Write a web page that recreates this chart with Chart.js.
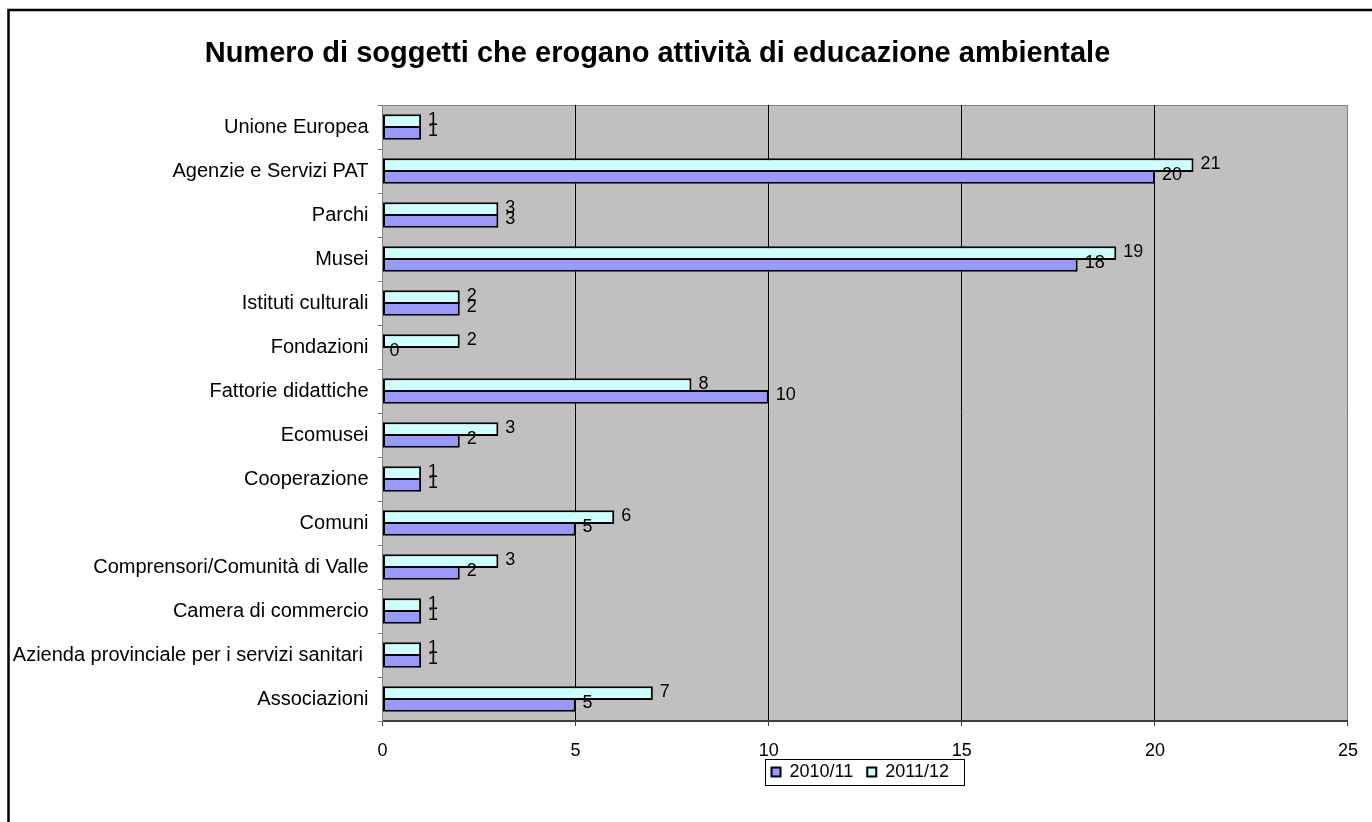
<!DOCTYPE html>
<html>
<head>
<meta charset="utf-8">
<script src="https://cdn.jsdelivr.net/npm/chart.js@4/dist/chart.umd.min.js"></script>
<style>
  html, body { margin: 0; padding: 0; background: #ffffff; }
  canvas { display: block; }
</style>
</head>
<body>
<canvas id="chart" width="1372" height="822"></canvas>
<script>
// Categories, top to bottom
const categories = [
  'Unione Europea',
  'Agenzie e Servizi PAT',
  'Parchi',
  'Musei',
  'Istituti culturali',
  'Fondazioni',
  'Fattorie didattiche',
  'Ecomusei',
  'Cooperazione',
  'Comuni',
  'Comprensori/Comunità di Valle',
  'Camera di commercio',
  'Azienda provinciale per i servizi sanitari ',
  'Associazioni'
];
const values201011 = [1, 20, 3, 18, 2, 0, 10, 2, 1, 5, 2, 1, 1, 5];
const values201112 = [1, 21, 3, 19, 2, 2, 8, 3, 1, 6, 3, 1, 1, 7];
const seriesNames = ['2010/11', '2011/12'];
const xTicks = [0, 5, 10, 15, 20, 25];
const chartTitle = 'Numero di soggetti che erogano attività di educazione ambientale';

const FONT = "Arial, 'Liberation Sans', sans-serif";

// Page frame, plot background and title
const framePlugin = {
  id: 'frame',
  beforeDraw(chart) {
    const { ctx, chartArea: a } = chart;
    ctx.save();
    ctx.fillStyle = '#ffffff';
    ctx.fillRect(0, 0, chart.width, chart.height);
    ctx.fillStyle = '#C0C0C0';
    ctx.fillRect(a.left, a.top, a.right - a.left, a.bottom - a.top);
    ctx.strokeStyle = '#808080';
    ctx.lineWidth = 1;
    ctx.beginPath();
    ctx.moveTo(a.left, a.top + 0.5);
    ctx.lineTo(a.right - 0.5, a.top + 0.5);
    ctx.lineTo(a.right - 0.5, a.bottom);
    ctx.stroke();
    // outer frame
    ctx.strokeStyle = '#000000';
    ctx.lineWidth = 2.5;
    ctx.beginPath();
    ctx.moveTo(8.5, chart.height + 10);
    ctx.lineTo(8.5, 10);
    ctx.lineTo(chart.width + 10, 10);
    ctx.stroke();
    // title
    ctx.fillStyle = '#000000';
    ctx.font = 'bold 29px ' + FONT;
    ctx.textAlign = 'center';
    ctx.textBaseline = 'alphabetic';
    ctx.fillText(chartTitle, 657.5, 62);
    ctx.restore();
  }
};

// Value labels at the end of each bar
const valueLabels = {
  id: 'valueLabels',
  afterDatasetsDraw(chart) {
    const { ctx } = chart;
    ctx.save();
    ctx.font = '18px ' + FONT;
    ctx.fillStyle = '#000000';
    ctx.textAlign = 'left';
    ctx.textBaseline = 'middle';
    chart.data.datasets.forEach((ds, i) => {
      const meta = chart.getDatasetMeta(i);
      meta.data.forEach((bar, j) => {
        ctx.fillText(String(ds.data[j]), bar.x + 7, bar.y - 1.5);
      });
    });
    ctx.restore();
  }
};

// Box around the legend
const legendBox = {
  id: 'legendBox',
  afterDraw(chart) {
    const hb = chart.legend && chart.legend.legendHitBoxes;
    if (!hb || !hb.length) return;
    let l = Infinity, r = -Infinity, t = Infinity, b = -Infinity;
    hb.forEach(h => {
      l = Math.min(l, h.left); r = Math.max(r, h.left + h.width);
      t = Math.min(t, h.top); b = Math.max(b, h.top + h.height);
    });
    const ctx = chart.ctx;
    ctx.save();
    ctx.strokeStyle = '#000000';
    ctx.lineWidth = 1;
    ctx.strokeRect(Math.round(l - 7) + 0.5, Math.round(t - 4) + 0.5, Math.round(r - l + 12), Math.round(b - t + 8));
    ctx.restore();
  }
};

new Chart(document.getElementById('chart'), {
  type: 'bar',
  data: {
    labels: categories,
    datasets: [
      {
        label: seriesNames[1],
        data: values201112,
        backgroundColor: '#CCFFFF',
        borderColor: '#000000',
        borderWidth: 2,
        borderSkipped: false
      },
      {
        label: seriesNames[0],
        data: values201011,
        backgroundColor: '#9999FF',
        borderColor: '#000000',
        borderWidth: 2,
        borderSkipped: false
      }
    ]
  },
  options: {
    indexAxis: 'y',
    responsive: false,
    animation: false,
    devicePixelRatio: 1,
    categoryPercentage: 0.53,
    barPercentage: 1.17,
    layout: { padding: { top: 105, right: 20.5, bottom: 31, left: 0 } },
    scales: {
      x: {
        min: 0,
        max: 25,
        afterBuildTicks(scale) { scale.ticks = xTicks.map(v => ({ value: v })); },
        afterFit(scale) { scale.height = 38; },
        ticks: { color: '#000000', font: { family: FONT, size: 18 }, padding: 14 },
        grid: {
          color: (c) => (c.tick && (c.tick.value === 0 || c.tick.value === 25)) ? 'rgba(0,0,0,0)' : '#000000',
          tickColor: '#404040',
          tickLength: 5,
          lineWidth: 1
        },
        border: { color: '#404040', width: 2 }
      },
      y: {
        afterFit(scale) { scale.width = 382.5; },
        ticks: { color: '#000000', font: { family: FONT, size: 20 }, padding: 9, autoSkip: false },
        grid: { drawOnChartArea: false, tickLength: 5, color: '#808080', offset: true },
        border: { color: '#808080', width: 1 }
      }
    },
    plugins: {
      title: { display: false },
      tooltip: { enabled: false },
      legend: {
        position: 'bottom',
        fullSize: false,
        reverse: true,
        labels: {
          color: '#000000',
          font: { family: FONT, size: 18 },
          boxWidth: 9,
          boxHeight: 9,
          padding: 4,
          // a little room after each entry
          generateLabels(chart) {
            return Chart.defaults.plugins.legend.labels.generateLabels(chart)
              .map(item => Object.assign(item, { text: item.text + '  ' }));
          }
        }
      }
    }
  },
  plugins: [framePlugin, valueLabels, legendBox]
});
</script>
</body>
</html>
